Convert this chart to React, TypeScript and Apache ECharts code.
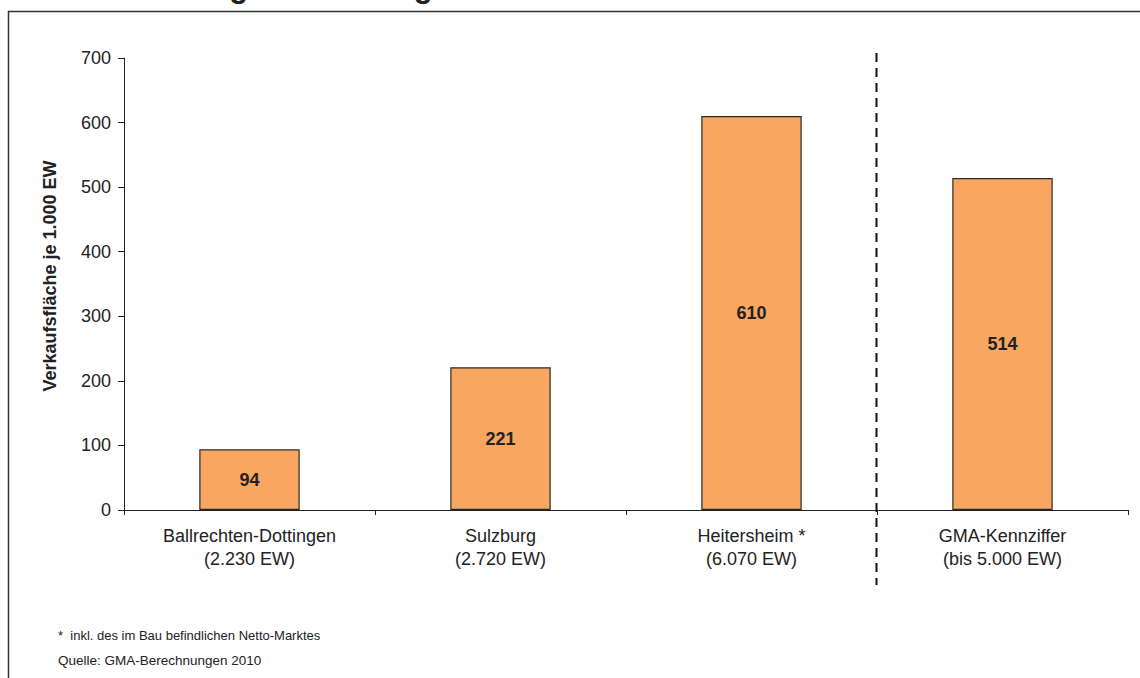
import React, { useEffect, useRef } from "react";
import * as echarts from "echarts";

const categories = [
  "Ballrechten-Dottingen\n(2.230 EW)",
  "Sulzburg\n(2.720 EW)",
  "Heitersheim *\n(6.070 EW)",
  "GMA-Kennziffer\n(bis 5.000 EW)",
];
const values = [94, 221, 610, 514];
const yTicks = { min: 0, max: 700, interval: 100 };
const yAxisTitle = "Verkaufsfläche je 1.000 EW";
const titleFragment = "regionalen Vergleich";
const footnote = "*  inkl. des im Bau befindlichen Netto-Marktes";
const source = "Quelle: GMA-Berechnungen 2010";

const FONT = "'Liberation Sans', Arial, sans-serif";

export default function App() {
  const ref = useRef<HTMLDivElement>(null);
  useEffect(() => {
    document.body.style.margin = "0";
    const chart = echarts.init(ref.current!, null, { renderer: "svg" });
    const option: any = {
      animation: false,
      backgroundColor: "#ffffff",
      textStyle: { fontFamily: FONT },
      grid: { left: 124, right: 12, top: 58, bottom: 168 },
      xAxis: {
        type: "category",
        data: categories,
        axisLine: { lineStyle: { color: "#222", width: 1 } },
        axisTick: { show: true, length: 5, lineStyle: { color: "#222" } },
        axisLabel: {
          color: "#222",
          fontSize: 18,
          fontFamily: FONT,
          lineHeight: 23,
          margin: 14,
          interval: 0,
        },
        splitLine: { show: false },
      },
      yAxis: {
        type: "value",
        min: yTicks.min,
        max: yTicks.max,
        interval: yTicks.interval,
        axisLine: { show: true, lineStyle: { color: "#222", width: 1 } },
        axisTick: { show: true, length: 6, lineStyle: { color: "#222" } },
        axisLabel: { color: "#222", fontSize: 18, fontFamily: FONT, margin: 13 },
        splitLine: { show: false },
      },
      series: [
        {
          type: "bar",
          data: values,
          barWidth: "40%",
          itemStyle: { color: "#F8A660", borderColor: "#2a2a2a", borderWidth: 1.2 },
          label: {
            show: true,
            position: "inside",
            color: "#222",
            fontWeight: "bold",
            fontSize: 18,
            fontFamily: FONT,
          },
        },
      ],
    };
    chart.setOption(option);

    const x2 = chart.convertToPixel({ xAxisIndex: 0 }, 2) as number;
    const x3 = chart.convertToPixel({ xAxisIndex: 0 }, 3) as number;
    const sepX = Math.round((x2 + x3) / 2) - 0.5;

    chart.setOption({
      graphic: [
        {
          type: "line",
          shape: { x1: 8, y1: 11.5, x2: 1140, y2: 11.5 },
          style: { stroke: "#333", lineWidth: 1.5 },
        },
        {
          type: "line",
          shape: { x1: 8.5, y1: 11, x2: 8.5, y2: 678 },
          style: { stroke: "#333", lineWidth: 1.5 },
        },
        {
          type: "text",
          x: 200,
          y: 2,
          style: {
            text: titleFragment,
            fontSize: 31,
            fontWeight: "bold",
            fontFamily: FONT,
            fill: "#222",
            align: "left",
            verticalAlign: "bottom",
          },
        },
        {
          type: "line",
          shape: { x1: sepX, y1: 53, x2: sepX, y2: 585 },
          style: { stroke: "#111", lineWidth: 2, lineDash: [9, 6] },
        },
        {
          type: "text",
          x: 50,
          y: 276,
          rotation: Math.PI / 2,
          style: {
            text: yAxisTitle,
            fontSize: 18,
            fontWeight: "bold",
            fontFamily: FONT,
            fill: "#222",
            align: "center",
            verticalAlign: "middle",
          },
        },
        {
          type: "text",
          x: 58,
          y: 635,
          style: {
            text: footnote,
            fontSize: 13,
            fontFamily: FONT,
            fill: "#222",
            align: "left",
            verticalAlign: "middle",
          },
        },
        {
          type: "text",
          x: 58,
          y: 660,
          style: {
            text: source,
            fontSize: 13.5,
            fontFamily: FONT,
            fill: "#222",
            align: "left",
            verticalAlign: "middle",
          },
        },
      ],
    });
    return () => chart.dispose();
  }, []);
  return (
    <div
      ref={ref}
      style={{ position: "absolute", left: 0, top: 0, width: 1140, height: 678 }}
    />
  );
}
